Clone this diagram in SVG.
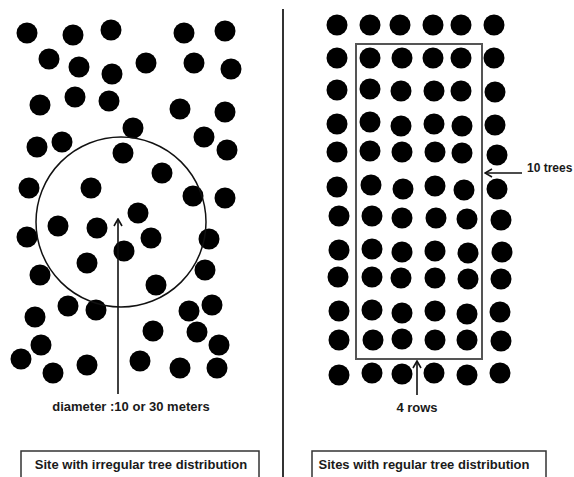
<svg xmlns="http://www.w3.org/2000/svg" width="574" height="477" viewBox="0 0 574 477">
<defs>
<style>
.t{fill:#111;stroke:#111;stroke-width:1.5;}
.tree circle{fill:#000;}
.lbl{font-family:"Liberation Sans",Arial,sans-serif;font-weight:bold;font-size:13px;fill:#1a1a1a;}
.box{fill:#fff;stroke:#333;stroke-width:1.5;}
.conn{stroke:#111;stroke-width:1.6;fill:none;}
</style>
<marker id="chev" viewBox="0 0 10 10" refX="9" refY="5" markerWidth="10" markerHeight="10" markerUnits="userSpaceOnUse" orient="auto">
<path d="M2,1 L9,5 L2,9" fill="none" stroke="#111" stroke-width="1.6"/>
</marker>
</defs>
<rect width="574" height="477" fill="#fff"/>
<line x1="283" y1="9" x2="283" y2="477" stroke="#333" stroke-width="2"/>

<g id="irregular-trees" class="tree">
<circle cx="27" cy="33" r="10.5"/><circle cx="73" cy="35" r="10.5"/><circle cx="111" cy="30" r="10.5"/><circle cx="184" cy="33" r="10.5"/><circle cx="225" cy="31" r="10.5"/>
<circle cx="49" cy="59" r="10.5"/><circle cx="79" cy="67" r="10.5"/><circle cx="112" cy="74" r="10.5"/><circle cx="146" cy="63" r="10.5"/><circle cx="194" cy="63" r="10.5"/><circle cx="231" cy="69" r="10.5"/>
<circle cx="40" cy="105" r="10.5"/><circle cx="75" cy="97" r="10.5"/><circle cx="109" cy="101" r="10.5"/><circle cx="180" cy="109" r="10.5"/><circle cx="225" cy="112" r="10.5"/>
<circle cx="133" cy="128" r="10.5"/><circle cx="37" cy="147" r="10.5"/><circle cx="62" cy="142" r="10.5"/><circle cx="123" cy="153" r="10.5"/><circle cx="204" cy="137" r="10.5"/><circle cx="227" cy="150" r="10.5"/>
<circle cx="162" cy="173" r="10.5"/><circle cx="29" cy="188" r="10.5"/><circle cx="91" cy="188" r="10.5"/><circle cx="193" cy="196" r="10.5"/><circle cx="225" cy="198" r="10.5"/>
<circle cx="138" cy="213" r="10.5"/><circle cx="58" cy="226" r="10.5"/><circle cx="97" cy="228" r="10.5"/><circle cx="27" cy="237" r="10.5"/><circle cx="151" cy="238" r="10.5"/><circle cx="209" cy="239" r="10.5"/>
<circle cx="124" cy="251" r="10.5"/><circle cx="87" cy="263" r="10.5"/><circle cx="40" cy="275" r="10.5"/><circle cx="205" cy="270" r="10.5"/><circle cx="156" cy="285" r="10.5"/>
<circle cx="68" cy="306" r="10.5"/><circle cx="96" cy="310" r="10.5"/><circle cx="189" cy="311" r="10.5"/><circle cx="212" cy="305" r="10.5"/><circle cx="35" cy="317" r="10.5"/>
<circle cx="153" cy="331" r="10.5"/><circle cx="197" cy="332" r="10.5"/><circle cx="41" cy="345" r="10.5"/><circle cx="219" cy="345" r="10.5"/>
<circle cx="21" cy="359" r="10.5"/><circle cx="87" cy="365" r="10.5"/><circle cx="140" cy="361" r="10.5"/><circle cx="53" cy="373" r="10.5"/><circle cx="180" cy="368" r="10.5"/><circle cx="217" cy="368" r="10.5"/>
</g>

<g id="sample-circle">
<circle cx="121" cy="222" r="85" fill="none" stroke="#111" stroke-width="1.5"/>
</g>

<g id="regular-trees" class="tree">
<circle cx="337" cy="25" r="10.5"/><circle cx="370" cy="25" r="10.5"/><circle cx="400" cy="25" r="10.5"/><circle cx="433" cy="25" r="10.5"/><circle cx="461" cy="25" r="10.5"/><circle cx="494" cy="25" r="10.5"/>
<circle cx="337" cy="58" r="10.5"/><circle cx="370" cy="58" r="10.5"/><circle cx="402" cy="58" r="10.5"/><circle cx="433" cy="58" r="10.5"/><circle cx="461" cy="58" r="10.5"/><circle cx="494" cy="58" r="10.5"/>
<circle cx="337" cy="90" r="10.5"/><circle cx="370" cy="89" r="10.5"/><circle cx="401" cy="91" r="10.5"/><circle cx="434" cy="91" r="10.5"/><circle cx="461" cy="91" r="10.5"/><circle cx="495" cy="92" r="10.5"/>
<circle cx="337" cy="124" r="10.5"/><circle cx="370" cy="122" r="10.5"/><circle cx="401" cy="126" r="10.5"/><circle cx="434" cy="124" r="10.5"/><circle cx="462" cy="126" r="10.5"/><circle cx="495" cy="125" r="10.5"/>
<circle cx="337" cy="152" r="10.5"/><circle cx="370" cy="151" r="10.5"/><circle cx="402" cy="152" r="10.5"/><circle cx="435" cy="152" r="10.5"/><circle cx="462" cy="153" r="10.5"/><circle cx="497" cy="155" r="10.5"/>
<circle cx="337" cy="187" r="10.5"/><circle cx="371" cy="185" r="10.5"/><circle cx="403" cy="189" r="10.5"/><circle cx="435" cy="186" r="10.5"/><circle cx="464" cy="190" r="10.5"/><circle cx="497" cy="189" r="10.5"/>
<circle cx="339" cy="216" r="10.5"/><circle cx="372" cy="216" r="10.5"/><circle cx="402" cy="218" r="10.5"/><circle cx="436" cy="218" r="10.5"/><circle cx="467" cy="219" r="10.5"/><circle cx="501" cy="220" r="10.5"/>
<circle cx="339" cy="250" r="10.5"/><circle cx="372" cy="249" r="10.5"/><circle cx="402" cy="252" r="10.5"/><circle cx="435" cy="251" r="10.5"/><circle cx="468" cy="253" r="10.5"/><circle cx="502" cy="252" r="10.5"/>
<circle cx="338" cy="277" r="10.5"/><circle cx="372" cy="277" r="10.5"/><circle cx="401" cy="278" r="10.5"/><circle cx="435" cy="278" r="10.5"/><circle cx="468" cy="279" r="10.5"/><circle cx="501" cy="279" r="10.5"/>
<circle cx="339" cy="311" r="10.5"/><circle cx="372" cy="310" r="10.5"/><circle cx="402" cy="313" r="10.5"/><circle cx="435" cy="311" r="10.5"/><circle cx="467" cy="314" r="10.5"/><circle cx="500" cy="312" r="10.5"/>
<circle cx="339" cy="340" r="10.5"/><circle cx="373" cy="340" r="10.5"/><circle cx="402" cy="339" r="10.5"/><circle cx="435" cy="340" r="10.5"/><circle cx="467" cy="340" r="10.5"/><circle cx="501" cy="341" r="10.5"/>
<circle cx="339" cy="375" r="10.5"/><circle cx="372" cy="373" r="10.5"/><circle cx="402" cy="374" r="10.5"/><circle cx="434" cy="373" r="10.5"/><circle cx="467" cy="375" r="10.5"/><circle cx="500" cy="373" r="10.5"/>
</g>

<g id="sample-rectangle">
<rect x="356" y="44" width="126" height="315" fill="none" stroke="#555" stroke-width="2"/>
</g>

<g id="connectors">
<line class="conn" x1="118" y1="394" x2="118" y2="219" marker-end="url(#chev)"/>
<line class="conn" x1="522" y1="173" x2="485" y2="173" marker-end="url(#chev)"/>
<line class="conn" x1="417" y1="395" x2="417" y2="361" marker-end="url(#chev)"/>
</g>

<g id="label-diameter"><text class="lbl" x="131" y="411" text-anchor="middle">diameter :10 or 30 meters</text></g>
<g id="label-10trees"><text class="lbl" x="527" y="172" style="font-size:12px">10 trees</text></g>
<g id="label-4rows"><text class="lbl" x="417" y="412" text-anchor="middle">4 rows</text></g>

<g id="caption-irregular">
<rect class="box" x="21" y="451" width="238" height="30"/>
<text class="lbl" x="141" y="469" text-anchor="middle">Site with irregular tree distribution</text>
</g>
<g id="caption-regular">
<rect class="box" x="312" y="451" width="234" height="30"/>
<text class="lbl" x="424" y="469" text-anchor="middle">Sites with regular tree distribution</text>
</g>
</svg>
